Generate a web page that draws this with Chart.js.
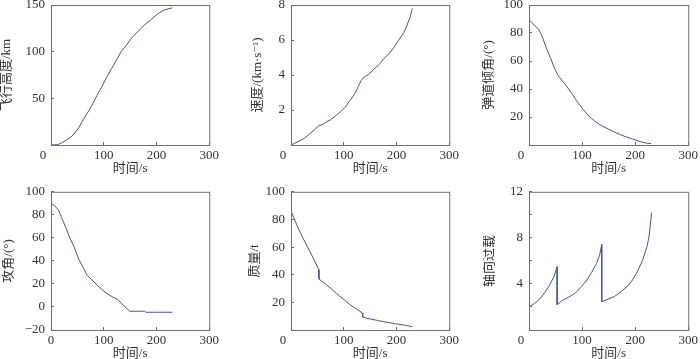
<!DOCTYPE html>
<html>
<head>
<meta charset="utf-8">
<script src="https://cdn.jsdelivr.net/npm/chart.js@4.4.1/dist/chart.umd.min.js"></script>
<style>
  html, body { margin: 0; padding: 0; background: #fff; }
  body { position: relative; width: 700px; height: 359px; overflow: hidden; }
  canvas { position: absolute; }
</style>
</head>
<body>
<canvas id="alt"></canvas>
<canvas id="speed"></canvas>
<canvas id="path"></canvas>
<canvas id="attack"></canvas>
<canvas id="mass"></canvas>
<canvas id="load"></canvas>
<script>
// time axis shared by all six panels
const timeTicks = [0, 100, 200, 300];

// 飞行高度 (km)
const altTime = [0, 13, 22, 35, 44, 53, 62, 72, 81, 87, 96, 105, 115, 124, 133, 143, 155, 167, 177, 189, 201, 214, 230];
const altKm   = [0, 0.4, 2.9, 7.2, 11.8, 19, 28, 37, 46, 53, 62, 72, 82, 91, 100, 107, 116, 123, 128.5, 134, 140, 144.6, 147];
const altTicks = [0, 50, 100, 150];
const altLabels = [50, 100, 150];

// 速度 (km/s)
const speedTime = [0, 7, 16, 25, 35, 44, 53, 61, 68, 75, 84, 93, 102, 112, 121, 127, 133, 139, 147, 158, 167, 176, 186, 195, 204, 214, 220, 226, 230];
const speedKms  = [0, 0.1, 0.23, 0.38, 0.63, 0.86, 1.11, 1.19, 1.34, 1.44, 1.65, 1.88, 2.14, 2.55, 2.93, 3.31, 3.69, 3.9, 4.02, 4.36, 4.59, 4.94, 5.22, 5.57, 5.99, 6.43, 6.85, 7.33, 7.81];
const speedTicks = [0, 2, 4, 6, 8];
const speedLabels = [2, 4, 6, 8];

// 弹道倾角 (deg)
const pathTime  = [0, 10, 18, 25, 33, 41, 47, 54, 62, 72, 81, 90, 102, 112, 124, 136, 149, 164, 180, 195, 210, 223, 230];
const pathAngle = [89.5, 85.6, 82.8, 77.3, 68.9, 61.7, 55.7, 50.2, 46.2, 41.4, 36.6, 31.3, 25.4, 21, 17, 13.9, 11.5, 8.6, 6.2, 4.3, 2.4, 1.2, 1.0];
const pathTicks = [0, 20, 40, 60, 80, 100];
const pathLabels = [20, 40, 60, 80, 100];

// 攻角 (deg)
const attackTime  = [0, 7, 14, 20, 28, 35, 44, 53, 62, 68, 78, 87, 96, 105, 115, 127, 138, 149, 164, 177, 180, 204, 230];
const attackAngle = [90, 87.7, 84.3, 77.7, 69, 60.6, 52, 41, 33.4, 27.7, 23.4, 19.1, 15.4, 12, 9.1, 6.3, 1.1, -3.7, -3.7, -3.7, -4.6, -4.6, -4.6];
const attackTicks = [-20, 0, 20, 40, 60, 80, 100];
const attackLabels = [-20, 0, 20, 40, 60, 80, 100];

// 质量 (t)
const massTime = [0, 13, 22, 31.5, 41, 52.5, 53, 62, 75, 87, 99, 112, 124, 135, 136, 149, 164, 180, 198, 214, 230];
const massTon  = [86, 74.3, 67, 60, 52.9, 43.8, 36.9, 34.3, 30.2, 26.2, 22.4, 18.3, 15.2, 12.4, 9.3, 8.1, 6.9, 5.7, 4.5, 3.6, 2.4];
const massTicks = [0, 20, 40, 60, 80, 100];
const massLabels = [20, 40, 60, 80, 100];

// 轴向过载
const loadTime  = [0, 10, 19, 28, 38, 47, 53, 53, 62, 75, 87, 99, 109, 118, 127, 133, 137, 137, 149, 161, 174, 186, 195, 204, 214, 222, 226, 231];
const axialLoad = [2.0, 2.29, 2.63, 3.14, 3.83, 4.63, 5.49, 2.2, 2.54, 2.86, 3.2, 3.77, 4.34, 5.0, 5.77, 6.49, 7.43, 2.45, 2.69, 2.91, 3.34, 3.83, 4.34, 5.06, 6.06, 7.2, 8.06, 10.2];
const loadTicks = [0, 2, 4, 6, 8, 10, 12];
const loadLabels = [4, 8, 12];

const FONT = "'Liberation Serif', 'Noto Sans CJK SC', 'DejaVu Serif', serif";
const LINE = '#4752a2';
const INK = '#333333';
const FRAME = '#707070';

// box round the plot area
const frame = {
  id: 'frame',
  afterDraw(chart) {
    const { ctx, chartArea: a } = chart;
    ctx.save();
    ctx.strokeStyle = FRAME;
    ctx.lineWidth = 1;
    ctx.strokeRect(a.left + 0.5, a.top + 0.5, a.right - a.left, a.bottom - a.top);
    ctx.restore();
  }
};

function makePanel(id, pos, xs, ys, yTicks, yLabels, yTitle, shiftZero) {
  const cv = document.getElementById(id);
  cv.width = pos.axisW + pos.plotW + 12;
  cv.height = pos.padT + 140 + 30;
  cv.style.left = pos.left + 'px';
  cv.style.top = pos.top + 'px';

  new Chart(cv, {
    type: 'line',
    data: {
      datasets: [{
        data: xs.map((x, i) => ({ x: x, y: ys[i] })),
        borderColor: LINE,
        borderWidth: 1,
        pointRadius: 0,
        tension: 0,
        fill: false
      }]
    },
    options: {
      responsive: false,
      animation: false,
      events: [],
      layout: { padding: { left: 0, top: pos.padT, right: 12, bottom: 0 } },
      plugins: { legend: { display: false }, tooltip: { enabled: false } },
      scales: {
        x: {
          type: 'linear',
          min: timeTicks[0],
          max: timeTicks[timeTicks.length - 1],
          afterBuildTicks: s => { s.ticks = timeTicks.map(v => ({ value: v })); },
          afterFit: s => { s.height = 30; },
          border: { display: false },
          grid: { drawOnChartArea: false, drawTicks: true, tickLength: -3, tickColor: FRAME },
          ticks: {
            padding: 6, color: INK, maxRotation: 0, autoSkip: false,
            font: { family: FONT, size: 13 },
            callback: v => (v === 0 && shiftZero) ? '0' + '\u00a0'.repeat(5) : String(v)
          },
          title: { display: true, text: '时间/s', color: INK, padding: 0,
                   font: { family: FONT, size: 13, lineHeight: 1 } }
        },
        y: {
          type: 'linear',
          min: yTicks[0],
          max: yTicks[yTicks.length - 1],
          afterBuildTicks: s => { s.ticks = yTicks.map(v => ({ value: v })); },
          afterFit: s => { s.width = pos.axisW; },
          border: { display: false },
          grid: { drawOnChartArea: false, drawTicks: true, tickLength: -3, tickColor: FRAME },
          ticks: {
            padding: 9, color: INK, autoSkip: false,
            font: { family: FONT, size: 13 },
            callback: v => yLabels.includes(v) ? String(v).replace('-', '\u2212') : ''
          },
          title: { display: true, text: yTitle, color: INK, padding: 0,
                   font: { family: FONT, size: 13, lineHeight: 1 } }
        }
      }
    },
    plugins: [frame]
  });
}

makePanel('alt',    { left: 0,   top: -15, axisW: 51, plotW: 162, padT: 20 }, altTime, altKm, altTicks, altLabels, '飞行高度/km', true);
makePanel('speed',  { left: 251, top: -15, axisW: 40, plotW: 162, padT: 20 }, speedTime, speedKms, speedTicks, speedLabels, '速度/(km·s⁻¹)', true);
makePanel('path',   { left: 482, top: -15, axisW: 47, plotW: 163, padT: 20 }, pathTime, pathAngle, pathTicks, pathLabels, '弹道倾角/(°)', true);
makePanel('attack', { left: 2,   top: 175, axisW: 49, plotW: 162, padT: 15 }, attackTime, attackAngle, attackTicks, attackLabels, '攻角/(°)', false);
makePanel('mass',   { left: 248, top: 175, axisW: 43, plotW: 162, padT: 15 }, massTime, massTon, massTicks, massLabels, '质量/t', true);
makePanel('load',   { left: 483, top: 175, axisW: 46, plotW: 163, padT: 15 }, loadTime, axialLoad, loadTicks, loadLabels, '轴向过载', true);
</script>
</body>
</html>
